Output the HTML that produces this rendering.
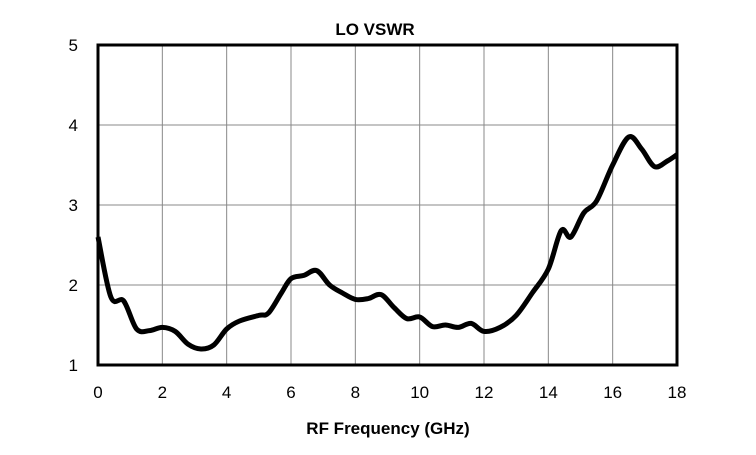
<!DOCTYPE html>
<html><head><meta charset="utf-8"><style>
body{margin:0;background:#fff}
svg text{font-family:"Liberation Sans",Arial,sans-serif;fill:#000}
</style></head><body>
<svg width="756" height="450" id="c">
<rect width="756" height="450" fill="#fff"/>
<text x="375" y="35" font-size="17" font-weight="bold" text-anchor="middle">LO VSWR</text>
<text x="388" y="434" font-size="17" font-weight="bold" text-anchor="middle">RF Frequency (GHz)</text>
<g id="grid"></g>
<g id="ticks"></g>
<path id="line" fill="none" stroke="#000" stroke-width="5" stroke-linejoin="round"/>
<rect x="98" y="45" width="579" height="320" fill="none" stroke="#000" stroke-width="3"/>
</svg>
<script>
const freqs=[0,0.4,0.8,1.2,1.6,2,2.4,2.8,3.2,3.6,4,4.4,5,5.3,5.7,6,6.4,6.8,7.2,7.6,8,8.4,8.8,9.2,9.6,10,10.4,10.8,11.2,11.6,12,12.5,13,13.5,14,14.4,14.7,15.1,15.5,16,16.5,16.9,17.3,17.7,18];
const vswr=[2.6,1.85,1.8,1.45,1.43,1.47,1.42,1.26,1.2,1.25,1.45,1.55,1.62,1.65,1.9,2.08,2.12,2.18,2.0,1.9,1.82,1.83,1.88,1.72,1.58,1.6,1.48,1.5,1.47,1.52,1.42,1.47,1.62,1.9,2.2,2.68,2.6,2.9,3.05,3.5,3.85,3.7,3.48,3.55,3.63];
const xTicks=[0,2,4,6,8,10,12,14,16,18];
const yTicks=[1,2,3,4,5];
const X0=98,X1=677,Y0=365,Y1=45;
const sx=v=>X0+(v-0)/18*(X1-X0);
const sy=v=>Y0-(v-1)/4*(Y0-Y1);
const NS="http://www.w3.org/2000/svg";
const grid=document.getElementById('grid'),ticks=document.getElementById('ticks');
xTicks.forEach(t=>{
 const l=document.createElementNS(NS,'line');
 l.setAttribute('x1',sx(t));l.setAttribute('x2',sx(t));l.setAttribute('y1',Y1);l.setAttribute('y2',Y0);
 l.setAttribute('stroke','#888');l.setAttribute('stroke-width','1');
 
 
 grid.appendChild(l);
 const tx=document.createElementNS(NS,'text');
 tx.setAttribute('x',sx(t));tx.setAttribute('y',398);tx.setAttribute('text-anchor','middle');tx.setAttribute('font-size','17');
 tx.textContent=t;
 
 
 ticks.appendChild(tx);
});
yTicks.forEach(t=>{
 const l=document.createElementNS(NS,'line');
 l.setAttribute('x1',X0);l.setAttribute('x2',X1);l.setAttribute('y1',sy(t));l.setAttribute('y2',sy(t));
 l.setAttribute('stroke','#888');l.setAttribute('stroke-width','1');
 
 
 grid.appendChild(l);
 const tx=document.createElementNS(NS,'text');
 tx.setAttribute('x',78);tx.setAttribute('y',sy(t)+6);tx.setAttribute('text-anchor','end');tx.setAttribute('font-size','17');
 tx.textContent=t;
 
 
 ticks.appendChild(tx);
});
const pts=freqs.map((f,i)=>[sx(f),sy(vswr[i])]);
let d='M'+pts[0][0]+','+pts[0][1];
for(let i=0;i<pts.length-1;i++){
 const p0=pts[Math.max(0,i-1)],p1=pts[i],p2=pts[i+1],p3=pts[Math.min(pts.length-1,i+2)];
 const c1=[p1[0]+(p2[0]-p0[0])/6,p1[1]+(p2[1]-p0[1])/6];
 const c2=[p2[0]-(p3[0]-p1[0])/6,p2[1]-(p3[1]-p1[1])/6];
 d+=' C'+c1+' '+c2+' '+p2;
}
document.getElementById('line').setAttribute('d',d);
</script>
</body></html>
